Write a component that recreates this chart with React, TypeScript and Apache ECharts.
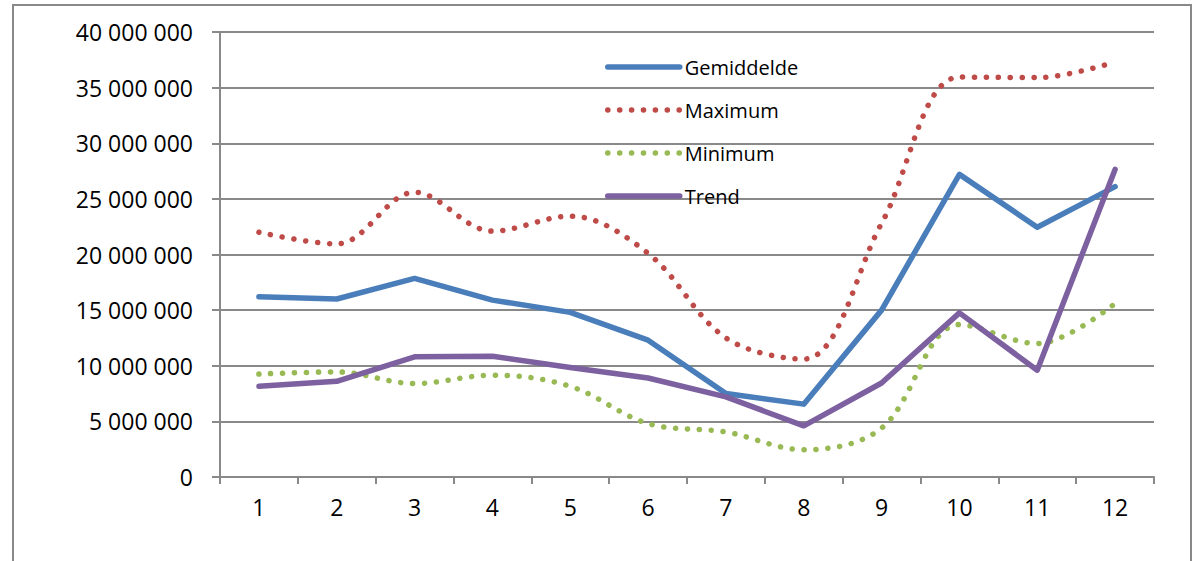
import React, { useEffect, useRef } from "react";
import * as echarts from "echarts";

const categories = ["1", "2", "3", "4", "5", "6", "7", "8", "9", "10", "11", "12"];
const gemiddelde = [16.2e6, 16.0e6, 17.85e6, 15.9e6, 14.8e6, 12.3e6, 7.5e6, 6.55e6, 15.0e6, 27.2e6, 22.45e6, 26.1e6];
const maximum = [22.0e6, 20.95e6, 25.6e6, 22.1e6, 23.45e6, 20.1e6, 12.5e6, 10.6e6, 22.8e6, 35.95e6, 35.9e6, 37.3e6];
const minimum = [9.25e6, 9.45e6, 8.4e6, 9.15e6, 8.15e6, 4.8e6, 4.05e6, 2.45e6, 4.4e6, 13.7e6, 12.0e6, 15.6e6];
const trend = [8.15e6, 8.6e6, 10.8e6, 10.85e6, 9.85e6, 8.9e6, 7.2e6, 4.6e6, 8.45e6, 14.75e6, 9.6e6, 27.65e6];

const FONT = "Open Sans";
const GRAY = "#898989";

function fmt(v: number): string {
  return String(Math.round(v)).replace(/\B(?=(\d{3})+(?!\d))/g, " ");
}

export default function App() {
  const ref = useRef<HTMLDivElement>(null);
  useEffect(() => {
    document.body.style.margin = "0";
    const chart = echarts.init(ref.current!, null, { renderer: "svg" });
    const dotted = (color: string) => ({
      color,
      width: 5.5,
      type: [0.1, 11.8] as number[],
      cap: "round" as const,
    });
    chart.setOption({
      animation: false,
      backgroundColor: "#ffffff",
      textStyle: { fontFamily: FONT },
      grid: { left: 220, right: 41, top: 32, bottom: 84 },
      legend: {
        orient: "vertical",
        left: 605,
        top: 57,
        padding: 0,
        itemWidth: 72,
        itemHeight: 20,
        itemGap: 23,
        itemStyle: { opacity: 0 },
        lineStyle: { width: 5.5, cap: "round" },
        textStyle: { fontFamily: FONT, fontSize: 20, color: "#000" },
        data: ["Gemiddelde", "Maximum", "Minimum", "Trend"],
      },
      xAxis: {
        type: "category",
        data: categories,
        boundaryGap: true,
        axisLine: { lineStyle: { color: GRAY, width: 2 } },
        axisTick: { show: true, length: 7, lineStyle: { color: GRAY, width: 2 } },
        axisLabel: { color: "#000", fontSize: 23, fontFamily: FONT, margin: 18 },
        splitLine: { show: false },
      },
      yAxis: {
        type: "value",
        min: 0,
        max: 40000000,
        interval: 5000000,
        axisLine: { show: true, lineStyle: { color: GRAY, width: 2 } },
        axisTick: { show: true, length: 8, lineStyle: { color: GRAY, width: 2 } },
        axisLabel: { color: "#000", fontSize: 23, fontFamily: FONT, margin: 27, formatter: (v: number) => fmt(v) },
        splitLine: { show: true, lineStyle: { color: GRAY, width: 2 } },
      },
      graphic: [
        {
          type: "rect",
          shape: { x: 13, y: 5, width: 1178, height: 620 },
          style: { fill: "none", stroke: GRAY, lineWidth: 2 },
          silent: true,
          z: -1,
        },
      ],
      series: [
        {
          name: "Gemiddelde",
          type: "line",
          data: gemiddelde,
          symbol: "none",
          lineStyle: { color: "#4A7EBB", width: 5.5, cap: "round", join: "round" },
          itemStyle: { color: "#4A7EBB" },
        },
        {
          name: "Maximum",
          type: "line",
          data: maximum,
          symbol: "none",
          smooth: 0.35,
          lineStyle: dotted("#BE4B48"),
          itemStyle: { color: "#BE4B48" },
        },
        {
          name: "Minimum",
          type: "line",
          data: minimum,
          symbol: "none",
          smooth: 0.35,
          lineStyle: dotted("#98B954"),
          itemStyle: { color: "#98B954" },
        },
        {
          name: "Trend",
          type: "line",
          data: trend,
          symbol: "none",
          lineStyle: { color: "#7D60A0", width: 5.5, cap: "round", join: "round" },
          itemStyle: { color: "#7D60A0" },
        },
      ],
    });
    return () => chart.dispose();
  }, []);
  return <div ref={ref} style={{ width: 1195, height: 561 }} />;
}
